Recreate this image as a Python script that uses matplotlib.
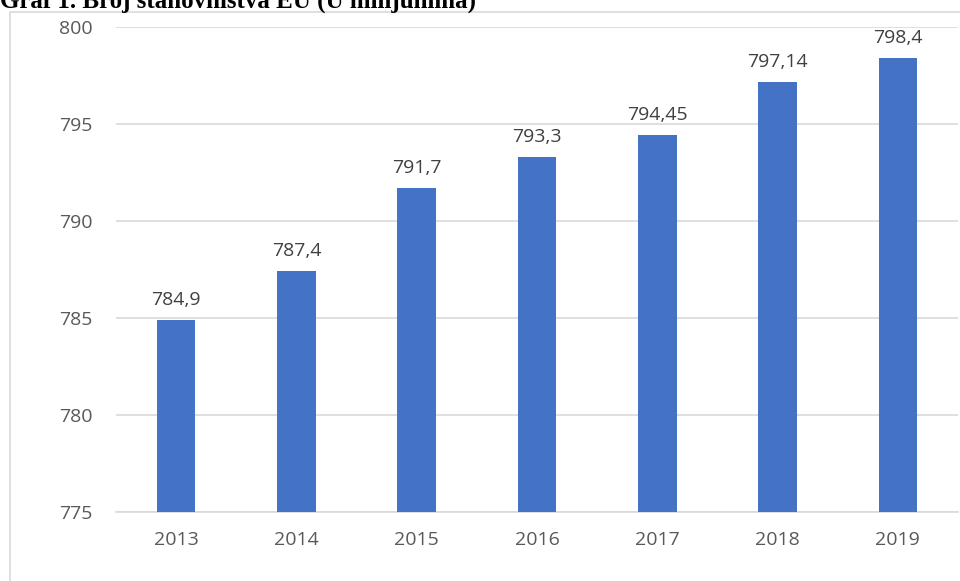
import matplotlib.pyplot as plt
from matplotlib.patches import Rectangle

# ── data ────────────────────────────────────────────────────────────────
years = ["2013", "2014", "2015", "2016", "2017", "2018", "2019"]
population = [784.9, 787.4, 791.7, 793.3, 794.45, 797.14, 798.4]
labels = ["784,9", "787,4", "791,7", "793,3", "794,45", "797,14", "798,4"]
y_ticks = [775, 780, 785, 790, 795, 800]

BAR = "#4472C4"
GRID = "#D9D9D9"
TICK_FG = "#595959"
LABEL_FG = "#404040"
FONT = "Open Sans"

fig = plt.figure(figsize=(9.6, 5.81), dpi=100)

# chart frame (light gray border, clipped at right/bottom)
fig.patches.append(Rectangle((10 / 960, -0.01), 1.0, 1 - 12 / 581 + 0.01,
                             transform=fig.transFigure, fill=False,
                             edgecolor=GRID, linewidth=1.2))

# title, partly cut off at the top like in the source document
fig.text(0.0, 1 - 8 / 581, "Graf 1. Broj stanovništva EU (U milijunima)",
         family="Liberation Serif", fontweight="bold", fontsize=18,
         ha="left", va="baseline", color="black")

ax = fig.add_axes([116 / 960, 1 - 512 / 581, (958 - 116) / 960, (512 - 27) / 581])
x = range(len(years))
bars = ax.bar(x, [p - 775 for p in population], bottom=775, width=0.32,
              color=BAR, zorder=3)

for rect, lab in zip(bars, labels):
    ax.annotate(lab, (rect.get_x() + rect.get_width() / 2, rect.get_y() + rect.get_height()),
                xytext=(0, 8), textcoords="offset points", ha="center", va="bottom",
                family=FONT, fontsize=14, color=LABEL_FG)

ax.set_ylim(775, 800)
ax.set_xlim(-0.5, len(years) - 0.5)
ax.set_yticks(y_ticks)
ax.set_xticks(list(x))
ax.set_xticklabels(years)
ax.grid(axis="y", color=GRID, linewidth=1.2, zorder=0)
for s in ["top", "right", "left"]:
    ax.spines[s].set_visible(False)
ax.spines["bottom"].set_color(GRID)
ax.spines["bottom"].set_linewidth(1.2)
ax.tick_params(length=0, labelsize=14, colors=TICK_FG, pad=14)
ax.tick_params(axis="y", pad=17)
for t in ax.get_xticklabels() + ax.get_yticklabels():
    t.set_family(FONT)

fig.savefig("out.png", dpi=100)
